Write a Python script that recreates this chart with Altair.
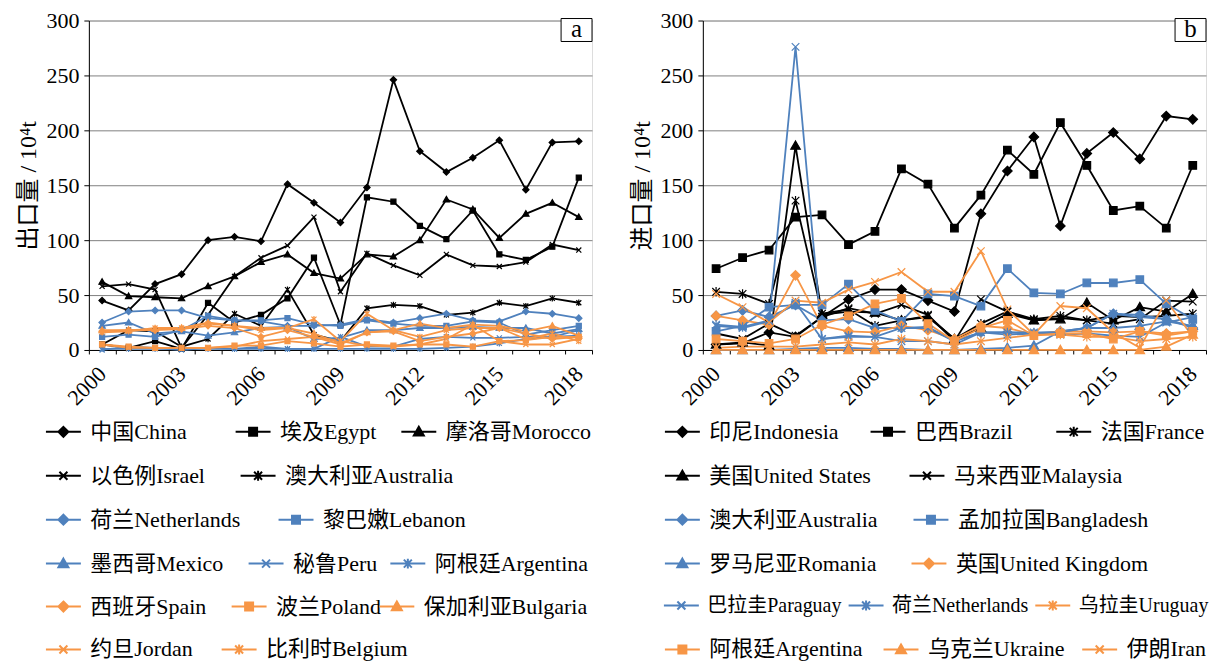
import altair as alt
import pandas as pd

years = list(range(2000, 2019))
label_years = [2000, 2003, 2006, 2009, 2012, 2015, 2018]

BLACK = "#000000"
BLUE = "#4F81BD"
ORANGE = "#F79646"
FONT = "Liberation Serif, Noto Sans CJK SC"

# ---------------- Panel a: exports (10^4 t) ----------------
exp_names = ["中国China", "埃及Egypt", "摩洛哥Morocco", "以色例Israel", "澳大利亚Australia",
             "荷兰Netherlands", "黎巴嫩Lebanon", "墨西哥Mexico", "秘鲁Peru", "阿根廷Argentina",
             "西班牙Spain", "波兰Poland", "保加利亚Bulgaria", "约旦Jordan", "比利时Belgium"]
exp_china = [45, 36, 60, 69, 100, 103, 99, 151, 134, 116, 148, 246, 181, 162, 175, 191, 146, 189, 190]
exp_egypt = [5, 2, 8, 1, 43, 25, 32, 47, 84, 23, 139, 135, 113, 101, 127, 87, 82, 94, 157]
exp_morocco = [62, 49, 48, 47, 58, 67, 80, 87, 70, 65, 87, 85, 100, 137, 128, 102, 124, 134, 121]
exp_israel = [58, 60, 55, 2, 32, 67, 84, 95, 121, 53, 88, 77, 68, 87, 77, 76, 80, 96, 91]
exp_australia = [5, 18, 17, 3, 10, 33, 22, 55, 14, 8, 38, 41, 40, 32, 34, 43, 40, 47, 43]
exp_netherlands = [25, 35, 36, 36, 29, 27, 26, 22, 22, 23, 28, 25, 29, 33, 27, 26, 35, 33, 29]
exp_lebanon = [12, 14, 12, 18, 31, 27, 27, 29, 23, 22, 27, 24, 22, 22, 26, 25, 14, 18, 22]
exp_mexico = [22, 25, 15, 17, 13, 16, 20, 21, 10, 11, 18, 18, 20, 20, 21, 20, 20, 15, 19]
exp_peru = [0, 3, 2, 0, 2, 1, 3, 1, 1, 12, 3, 3, 10, 12, 11, 11, 12, 12, 13]
exp_argentina = [1, 1, 1, 1, 1, 1, 1, 1, 1, 1, 1, 1, 1, 2, 3, 6, 10, 12, 18]
exp_spain = [17, 18, 18, 19, 22, 20, 12, 18, 12, 5, 16, 17, 8, 12, 15, 20, 15, 10, 12]
exp_poland = [5, 3, 2, 2, 2, 4, 4, 8, 6, 3, 5, 4, 5, 5, 3, 8, 9, 12, 12]
exp_bulgaria = [18, 18, 19, 20, 25, 22, 20, 20, 15, 6, 16, 18, 24, 20, 23, 22, 17, 22, 13]
exp_jordan = [5, 2, 2, 2, 2, 3, 8, 10, 12, 8, 4, 3, 5, 10, 23, 8, 5, 5, 10]
exp_belgium = [16, 17, 20, 20, 24, 22, 18, 20, 28, 8, 33, 18, 12, 18, 20, 20, 10, 15, 8]
exp_values = [exp_china, exp_egypt, exp_morocco, exp_israel, exp_australia,
              exp_netherlands, exp_lebanon, exp_mexico, exp_peru, exp_argentina,
              exp_spain, exp_poland, exp_bulgaria, exp_jordan, exp_belgium]
exp_colors = [BLACK] * 5 + [BLUE] * 5 + [ORANGE] * 5
exp_markers = ["diamond", "square", "triangle", "x", "asterisk"] * 3

# ---------------- Panel b: imports (10^4 t) ----------------
imp_names = ["印尼Indonesia", "巴西Brazil", "法国France", "美国United States", "马来西亚Malaysia",
             "澳大利亚Australia", "孟加拉国Bangladesh", "罗马尼亚Romania", "英国United Kingdom",
             "巴拉圭Paraguay", "荷兰Netherlands", "乌拉圭Uruguay", "阿根廷Argentina",
             "乌克兰Ukraine", "伊朗Iran"]
imp_indonesia = [5, 6, 16, 12, 30, 46, 55, 55, 45, 35, 124, 163, 194, 113, 179, 198, 174, 213, 210]
imp_brazil = [74, 84, 91, 121, 123, 96, 108, 165, 151, 111, 141, 182, 160, 207, 168, 127, 131, 111, 168]
imp_france = [53, 51, 42, 136, 33, 37, 22, 27, 31, 10, 24, 35, 28, 31, 27, 31, 30, 31, 33]
imp_us = [5, 7, 4, 186, 32, 35, 34, 27, 30, 10, 20, 33, 27, 28, 43, 27, 39, 35, 51]
imp_malaysia = [15, 10, 24, 13, 30, 38, 33, 41, 32, 8, 46, 35, 27, 29, 27, 24, 28, 45, 44]
imp_australia = [31, 36, 30, 41, 27, 28, 20, 20, 21, 8, 16, 16, 15, 17, 20, 33, 32, 28, 20]
imp_bangladesh = [17, 22, 39, 41, 41, 60, 36, 26, 51, 49, 40, 74, 52, 51, 61, 61, 64, 42, 28]
imp_romania = [0, 0, 0, 1, 2, 2, 1, 1, 0, 0, 1, 2, 4, 17, 20, 20, 22, 26, 22]
imp_uk = [31, 27, 23, 68, 22, 17, 16, 22, 18, 10, 22, 20, 14, 17, 17, 16, 17, 15, 17]
imp_paraguay = [22, 20, 26, 276, 10, 12, 12, 8, 8, 5, 16, 14, 15, 14, 15, 13, 12, 25, 30]
imp_netherlands = [23, 21, 27, 43, 10, 13, 12, 20, 20, 8, 16, 16, 16, 16, 20, 33, 30, 28, 21]
imp_uruguay = [2, 3, 3, 3, 5, 7, 5, 10, 8, 5, 8, 11, 14, 14, 12, 12, 8, 10, 12]
imp_argentina = [10, 8, 6, 10, 23, 31, 42, 47, 24, 8, 20, 27, 13, 15, 15, 10, 17, 13, 17]
imp_ukraine = [0, 0, 0, 0, 0, 0, 0, 0, 0, 0, 0, 0, 0, 0, 0, 0, 0, 3, 14]
imp_iran = [51, 39, 25, 45, 43, 55, 62, 71, 53, 53, 90, 37, 14, 40, 38, 16, 2, 45, 12]
imp_values = [imp_indonesia, imp_brazil, imp_france, imp_us, imp_malaysia,
              imp_australia, imp_bangladesh, imp_romania, imp_uk,
              imp_paraguay, imp_netherlands, imp_uruguay, imp_argentina,
              imp_ukraine, imp_iran]
imp_colors = [BLACK] * 5 + [BLUE, BLUE, BLUE, ORANGE, BLUE, BLUE, ORANGE, ORANGE, ORANGE, ORANGE]
imp_markers = ["diamond", "square", "asterisk", "triangle", "x",
               "diamond", "square", "triangle", "diamond",
               "x", "asterisk", "asterisk", "square", "triangle", "x"]

# ---------------- legend layout (Excel-like flow) ----------------
exp_leg_x = [45, 235, 401, 45, 240, 45, 278, 45, 248, 390, 45, 231, 379, 45, 221]
exp_leg_row = [0, 0, 0, 1, 1, 2, 2, 3, 3, 3, 4, 4, 4, 5, 5]
exp_leg_fs = [22] * 15
imp_leg_x = [665, 871, 1057, 665, 910, 665, 914, 665, 912, 665, 850, 1037, 665, 884, 1083]
imp_leg_row = [0, 0, 0, 1, 1, 2, 2, 3, 3, 4, 4, 4, 5, 5, 5]
imp_leg_fs = [22] * 9 + [20, 20, 20] + [22] * 3
row_centers = [431, 475, 519, 563, 606, 649]

W, H = 504, 330
ORIGIN_TOP = 19

MARK = {
    "diamond": "M0,-1L1,0L0,1L-1,0Z",
    "square": "M-0.8,-0.8L0.8,-0.8L0.8,0.8L-0.8,0.8Z",
    "triangle": "M0,-1L1,0.75L-1,0.75Z",
    "x": "M-0.8,-0.8L0.8,0.8M-0.8,0.8L0.8,-0.8",
    "asterisk": "M-0.8,-0.8L0.8,0.8M-0.8,0.8L0.8,-0.8M0,-1L0,1",
}
LEGLINE = "M-3.5,0L3.5,0"


def make_panel(names, values, colors, markers, leg_x, leg_row, leg_fs,
               origin_x, tag, ytitle, psize):
    rows = []
    for n, vals in zip(names, values):
        for yr, v in zip(years, vals):
            rows.append({"name": n, "year": yr, "value": v})
    df = pd.DataFrame(rows)

    xs = alt.Scale(domain=[1999.5, 2018.5], nice=False, zero=False)
    ys = alt.Scale(domain=[0, 300], nice=False, zero=True)
    yaxis = alt.Axis(values=list(range(0, 301, 50)), title=ytitle, tickSize=5,
                     labelPadding=5, titlePadding=5, grid=True, gridColor="#7f7f7f",
                     gridWidth=1, domainColor="black", tickColor="black",
                     labelFont=FONT, labelFontSize=22, labelColor="black",
                     titleFont=FONT, titleFontSize=24, titleFontWeight="normal",
                     titleColor="black")
    y_enc = alt.Y("value:Q", scale=ys, axis=yaxis)

    lines = alt.Chart(df).mark_line(strokeWidth=1.8).encode(
        x=alt.X("year:Q", scale=xs,
                axis=alt.Axis(values=label_years, format="d", labelAngle=-45,
                              labelAlign="right", labelBaseline="middle",
                              ticks=False, grid=False, title=None, labelPadding=20,
                              domainColor="black", labelFont=FONT, labelFontSize=22,
                              labelColor="black", orient="bottom", labelOverlap=False)),
        y=y_enc,
        color=alt.Color("name:N", scale=alt.Scale(domain=names, range=colors), legend=None),
    )
    points = alt.Chart(df).mark_point(filled=False, opacity=1, strokeWidth=1.2, size=psize).encode(
        x=alt.X("year:Q", scale=xs,
                axis=alt.Axis(values=[1999.5 + i for i in range(20)], labels=False,
                              ticks=True, tickSize=4, tickColor="black", domain=False,
                              grid=False, title=None, orient="bottom")),
        y=y_enc,
        color=alt.Color("name:N", scale=alt.Scale(domain=names, range=colors), legend=None),
        fill=alt.Fill("name:N", scale=alt.Scale(domain=names, range=colors), legend=None),
        shape=alt.Shape("name:N", scale=alt.Scale(domain=names, range=[MARK[m] for m in markers]),
                        legend=None),
    )

    legend_layers = []
    for n, c, m, lx, lr, fs in zip(names, colors, markers, leg_x, leg_row, leg_fs):
        legend_layers.append(
            alt.Chart(df).transform_filter("false").mark_point(filled=True, opacity=1).encode(
                color=alt.Color("name:N", scale=alt.Scale(domain=[n], range=[c]),
                                legend=alt.Legend(title=None, orient="none",
                                                  legendX=lx + 17.5 - 11 - origin_x,
                                                  legendY=row_centers[lr] - 11 - ORIGIN_TOP,
                                                  padding=0, offset=0,
                                                  symbolType=LEGLINE + MARK[m], symbolSize=100,
                                                  symbolStrokeWidth=2, symbolStrokeColor=c,
                                                  symbolFillColor=c, symbolOpacity=1,
                                                  labelFont=FONT, labelFontSize=fs,
                                                  labelColor="black", labelOffset=16,
                                                  labelLimit=0))
            )
        )

    tagdf = pd.DataFrame({"t": [tag]})
    box = alt.Chart(tagdf).mark_rect(fill="white", stroke="black", strokeWidth=1).encode(
        x=alt.value(W - 31), x2=alt.value(W), y=alt.value(-2), y2=alt.value(21))
    txt = alt.Chart(tagdf).mark_text(font=FONT, fontSize=25, color="black", baseline="middle").encode(
        x=alt.value(W - 15.5), y=alt.value(9), text="t:N")

    layer = alt.layer(lines, points, *legend_layers, box, txt).resolve_scale(
        color="independent", fill="independent", shape="independent"
    ).resolve_axis(x="independent").properties(width=W, height=H)
    return layer


left = make_panel(exp_names, exp_values, exp_colors, exp_markers, exp_leg_x, exp_leg_row,
                  exp_leg_fs, 88, "a", "出口量 / 10⁴t", 40)
right = make_panel(imp_names, imp_values, imp_colors, imp_markers, imp_leg_x, imp_leg_row,
                   imp_leg_fs, 703, "b", "进口量 / 10⁴t", 90)

chart = alt.hconcat(left, right, spacing=111, bounds="flush").properties(
    padding={"left": 8, "top": 0, "right": 0, "bottom": 0}
).configure_view(stroke="black", strokeWidth=1).configure(background="white")

chart.save("out.html", embed_options={"renderer": "svg", "actions": False})
